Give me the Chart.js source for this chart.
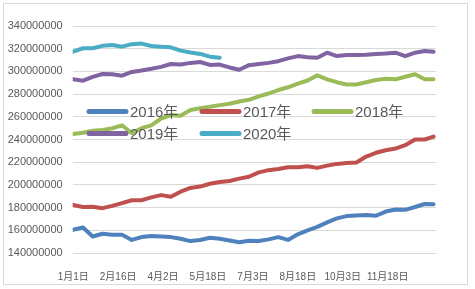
<!DOCTYPE html>
<html>
<head>
<meta charset="utf-8">
<script src="https://cdn.jsdelivr.net/npm/chart.js@4.4.1/dist/chart.umd.min.js"></script>
<style>
  html, body { margin: 0; padding: 0; background: #fff; }
  #wrap { width: 475px; height: 289px; position: relative; }
</style>
</head>
<body>
<div id="wrap"><canvas id="chart"></canvas></div>
<script>
// day of year (0 = 1月1日), values in millions
const days = [0, 10, 20, 30, 40, 50, 60, 70, 80, 90, 100, 110, 120, 130, 140, 150, 160, 170, 180,
              190, 200, 210, 220, 230, 240, 250, 260, 270, 280, 290, 300, 310, 320, 330, 340, 350, 360, 369];

const y2016 = [160.5, 162.5, 154.5, 157, 156, 156, 151.5, 154, 155, 154.5, 154, 152.5, 150.5, 151.5, 153.5, 152.5, 151, 149.5, 150.8,
               150.5, 152, 154, 151.5, 156.5, 160, 163, 167, 170.5, 172.5, 173, 173.5, 172.8, 176.5, 178.3, 178, 180.5, 183.2, 183];
const y2017 = [182.3, 180.5, 180.8, 179.5, 181.5, 184, 186.5, 186.5, 189, 191, 189.5, 194, 197.3, 198.5, 201, 202.5, 203.5, 205.5, 207.2,
               211, 213, 214, 215.5, 215.5, 216.5, 215, 217, 218.5, 219.2, 219.8, 225, 228.3, 230.5, 232, 235, 240, 240, 242.5];
const y2018 = [244.8, 246, 247.7, 248.4, 249.9, 252.5, 245.5, 250, 252.5, 258.5, 261.5, 261, 266, 267.5, 268.8, 270.3, 271.5, 273.5, 275,
               278, 280.5, 283.6, 286, 289.3, 292, 296.5, 293, 290.5, 288.5, 288.5, 290.5, 292.4, 293.5, 293, 295.3, 297.5, 293, 293];
const y2019 = [293, 291.8, 295.2, 297.7, 297.5, 296.2, 299.5, 300.8, 302.3, 304, 306.5, 306, 307.5, 308.3, 305.7, 306, 303.5, 301.5, 305.5,
               306.5, 307.5, 309, 311.5, 313.5, 312.5, 312, 316.5, 313.5, 314.4, 314.4, 314.6, 315.3, 315.7, 316.5, 313.5, 316.5, 318, 317.4];
const y2020 = [317.4, 320.4, 320.4, 322.5, 323.3, 321.8, 324, 324.5, 322.4, 321.8, 321.2, 318.3, 316.6, 315.4, 313, 312];

const seriesNames = ['2016年', '2017年', '2018年', '2019年', '2020年'];
const seriesColors = ['#4F81BD', '#C0504D', '#9BBB59', '#8064A2', '#4BACC6'];
const tickDays = [0, 46, 92, 138, 184, 230, 276, 322];
const tickLabels = ['1月1日', '2月16日', '4月2日', '5月18日', '7月3日', '8月18日', '10月3日', '11月18日'];

const TEXT = '#595959';
const FONT = "'Liberation Sans', 'Noto Sans CJK SC', sans-serif";

function toPoints(vals) {
    return vals.map((v, i) => ({ x: days[i], y: v * 1e6 }));
}

// legend drawn inside the plot, two rows
const legendSpots = [[87, 111.5], [200, 111.5], [312, 111.5], [87, 133.5], [200, 133.5]];
const innerLegend = {
    id: 'innerLegend',
    beforeDraw(chart) {
        const c = chart.ctx;
        c.save();
        c.strokeStyle = '#d9d9d9';
        c.lineWidth = 1;
        c.strokeRect(3.5, 3.5, 464, 281);
        c.restore();
    },
    afterDatasetsDraw(chart) {
        const c = chart.ctx;
        c.save();
        chart.data.datasets.forEach((ds, i) => {
            const [x, y] = legendSpots[i];
            c.strokeStyle = ds.borderColor;
            c.lineWidth = 5;
            c.lineCap = 'round';
            c.beginPath();
            c.moveTo(x + 2, y);
            c.lineTo(x + 39, y);
            c.stroke();
            c.fillStyle = TEXT;
            c.font = '15px ' + FONT;
            c.textBaseline = 'middle';
            c.fillText(ds.label, x + 43, y + 1);
        });
        c.restore();
    }
};

const series = [y2016, y2017, y2018, y2019, y2020];

new Chart(document.getElementById('chart'), {
    type: 'line',
    data: {
        datasets: series.map((vals, i) => ({
            label: seriesNames[i],
            data: toPoints(vals),
            borderColor: seriesColors[i],
            backgroundColor: seriesColors[i],
            borderWidth: 4,
            borderCapStyle: 'round',
            borderJoinStyle: 'round',
            pointRadius: 0,
            tension: 0,
            order: 5 - i
        }))
    },
    options: {
        responsive: true, maintainAspectRatio: false,
        animation: false,
        layout: { padding: { left: 0, right: 39, top: 26, bottom: 0 } },
        plugins: { legend: { display: false }, tooltip: { enabled: false } },
        scales: {
            x: {
                type: 'linear', min: -0.5, max: 371.5,
                grid: { display: false },
                border: { display: false },
                afterBuildTicks: s => { s.ticks = tickDays.map(v => ({ value: v })); },
                afterFit: s => { s.height = 36; },
                ticks: {
                    autoSkip: false, maxRotation: 0, padding: 10,
                    color: TEXT, font: { size: 10, family: FONT },
                    callback: v => tickLabels[tickDays.indexOf(v)]
                }
            },
            y: {
                min: 140000000, max: 340000000,
                grid: { color: '#d9d9d9', drawTicks: false },
                border: { display: false },
                afterFit: s => { s.width = 72.7; },
                ticks: {
                    stepSize: 20000000, padding: 10,
                    color: TEXT, font: { size: 11, family: FONT },
                    callback: v => String(v)
                }
            }
        }
    },
    plugins: [innerLegend]
});
</script>
</body>
</html>
